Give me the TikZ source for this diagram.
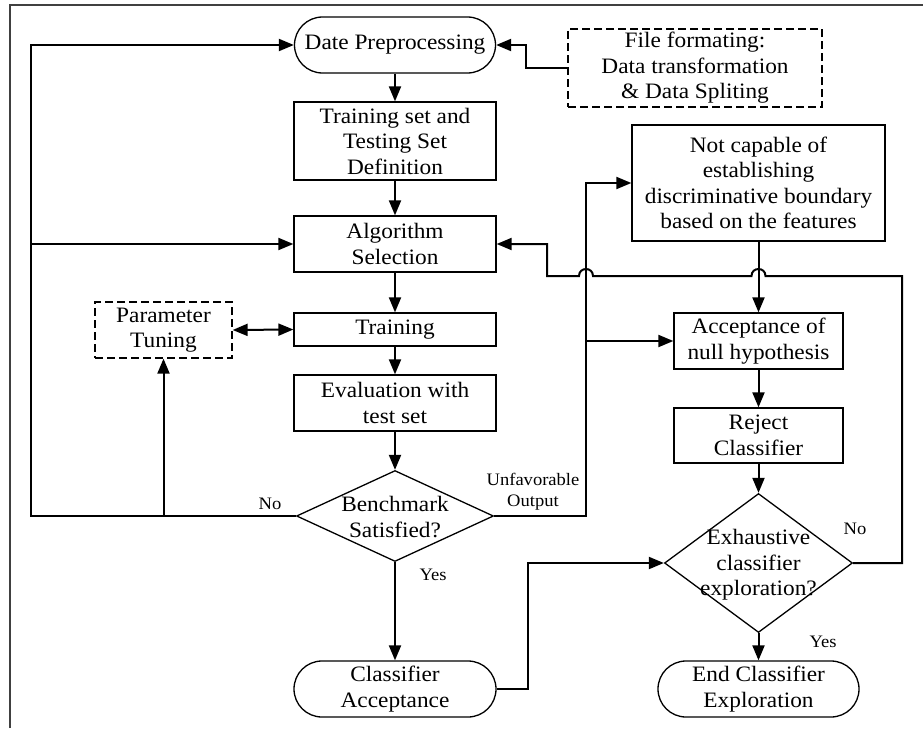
\documentclass[tikz,border=0pt]{standalone}
\usepackage{fontspec}
\setmainfont{Liberation Serif}[FakeStretch=1.06]
\usetikzlibrary{arrows.meta,shapes.geometric}
\newcommand\dgbig{\fontsize{22}{25.5}\selectfont}
\newcommand\dgsmall{\fontsize{17.5}{21}\selectfont}
\begin{document}
\begin{tikzpicture}[x=1pt,y=-1pt,
  box/.style={draw,line width=1.3pt,inner sep=0pt,align=center,font=\dgbig,rectangle},
  term/.style={box,rounded corners=28pt},
  dbox/.style={box,dash pattern=on 8pt off 4pt},
  dia/.style={draw,line width=1.3pt,diamond,inner sep=0pt},
  dtext/.style={align=center,font=\dgbig,inner sep=0pt},
  lab/.style={align=center,font=\dgsmall,inner sep=0pt},
  line/.style={line width=2pt},
  conn/.style={line width=2pt,-{Triangle[length=15pt,width=12pt]}},
  dconn/.style={line width=2pt,{Triangle[length=15pt,width=12pt]}-{Triangle[length=15pt,width=12pt]}}]
\useasboundingbox (0,0) rectangle (923,728);
\draw[line width=1.5pt,black!75] (10,728) -- (10,5) -- (923,5);

% left column
\node[term,minimum width=201pt,minimum height=56pt] (dp) at (395,45) {Date Preprocessing};
\node[box,minimum width=202pt,minimum height=78pt] (ts) at (395,141) {Training set and\\Testing Set\\Definition};
\node[box,minimum width=202pt,minimum height=56pt] (as) at (395,244) {Algorithm\\Selection};
\node[box,minimum width=202pt,minimum height=33pt] (tr) at (395,329.5) {Training};
\node[box,minimum width=202pt,minimum height=56pt] (ev) at (395,403) {Evaluation with\\test set};
\node[dia,minimum width=197pt,minimum height=91pt] (bm) at (395,516) {};
\node[dtext] (bmt) at (395,517) {Benchmark\\Satisfied?};
\node[term,minimum width=202pt,minimum height=56pt] (ca) at (395,689) {Classifier\\Acceptance};
\node[dbox,minimum width=137pt,minimum height=56pt] (pt) at (163.5,330) {Parameter\\Tuning};

% right column
\node[dbox,minimum width=254pt,minimum height=78pt] (ff) at (695,68) {File formating:\\Data transformation\\\& Data Spliting};
\node[box,minimum width=253pt,minimum height=116pt] (nc) at (758.5,183) {Not capable of\\establishing\\discriminative boundary\\based on the features};
\node[box,minimum width=169pt,minimum height=56pt] (an) at (758.5,341) {Acceptance of\\null hypothesis};
\node[box,minimum width=169pt,minimum height=55pt] (rc) at (758.5,435.5) {Reject\\Classifier};
\node[dia,minimum width=188pt,minimum height=139pt] (ex) at (758.5,563) {};
\node[dtext] (ext) at (758.5,565) {Exhaustive\\classifier\\exploration?};
\node[term,minimum width=201pt,minimum height=56pt] (ec) at (758.5,689) {End Classifier\\Exploration};

% labels
\node[lab] (lno1) at (270,504) {No};
\node[lab] (lyes1) at (433,575) {Yes};
\node[lab] (lunf) at (533,492) {Unfavorable\\Output};
\node[lab] (lno2) at (855,529) {No};
\node[lab] (lyes2) at (823,642) {Yes};

% main flow
\draw[conn] (dp.south) -- (ts.north);
\draw[conn] (ts.south) -- (as.north);
\draw[conn] (as.south) -- (tr.north);
\draw[conn] (tr.south) -- (ev.north);
\draw[conn] (ev.south) -- (bm.north);
\draw[conn] (bm.south) -- (ca.north);

% No loop on the left
\coordinate (lx) at (31,45);
\draw[conn] (bm.west) -| (lx) -- (dp.west);
\draw[conn] (lx |- as.west) -- (as.west);
\draw[conn] (pt.south |- bm.west) -- (pt.south);
\draw[dconn] (pt.east) -- (tr.west);

% file formatting
\draw[conn] (ff.west) -- ++(-41,0) |- (dp.east);

% unfavorable output
\coordinate (ux) at (586,516);
\draw[conn] (bm.east) -- (ux) |- (nc.west);
\draw[conn] (ux |- an.west) -- (an.west);

% right flow
\draw[conn] (nc.south) -- (an.north);
\draw[conn] (an.south) -- (rc.north);
\draw[conn] (rc.south) -- (ex.north);
\draw[conn] (ex.south) -- (ec.north);
\draw[conn] (ca.east) -- ++(31,0) |- (ex.west);

% No loop on the right with hops
\draw[conn] (ex.east) -- (902,563) -- (902,276) -- (765.5,276)
  .. controls (765.5,266.7) and (751.5,266.7) .. (751.5,276) -- (593,276)
  .. controls (593,266.7) and (579,266.7) .. (579,276) -- (547,276) |- (as.east);
\end{tikzpicture}
\end{document}
